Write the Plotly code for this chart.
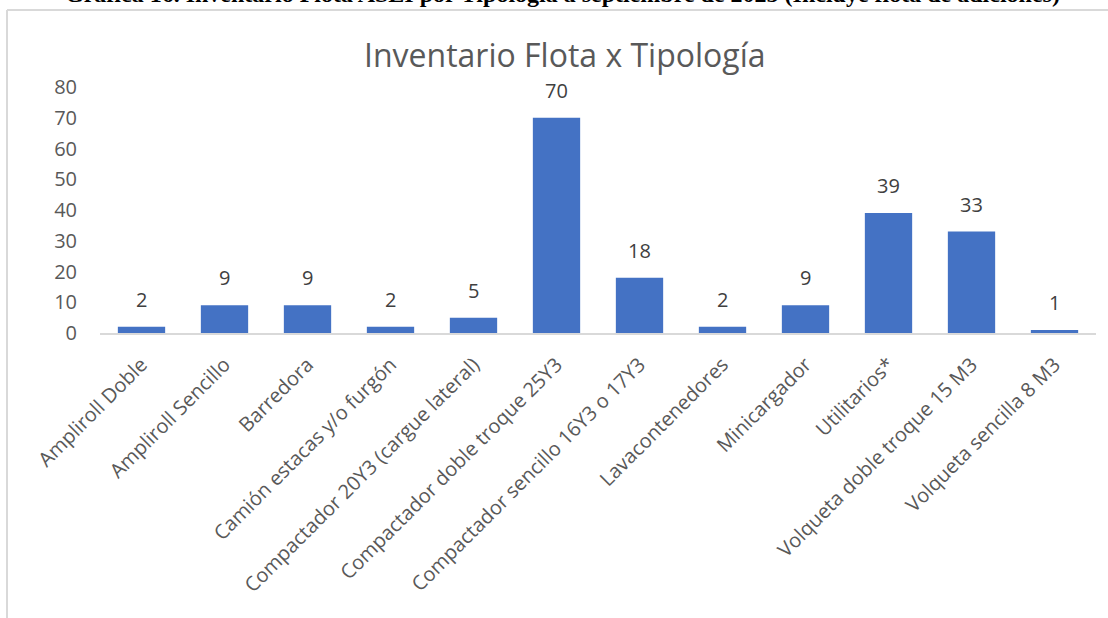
import plotly.graph_objects as go

categories = [
    "Ampliroll Doble", "Ampliroll Sencillo", "Barredora",
    "Camión estacas y/o furgón", "Compactador 20Y3 (cargue lateral)",
    "Compactador doble troque 25Y3", "Compactador sencillo 16Y3 o 17Y3",
    "Lavacontenedores", "Minicargador", "Utilitarios*",
    "Volqueta doble troque 15 M3", "Volqueta sencilla 8 M3",
]
values = [2, 9, 9, 2, 5, 70, 18, 2, 9, 39, 33, 1]
y_ticks = [0, 10, 20, 30, 40, 50, 60, 70, 80]

chart_title = "Inventario Flota x Tipología"
caption = "Gráfica 16. Inventario Flota ASEI por Tipología a septiembre de 2025 (Incluye flota de adiciones)"

W, H = 1108, 618
L, R, T, B = 100, 12, 87, 285
pw, ph = W - L - R, H - T - B

def px_x(p):
    return (p - L) / pw

def px_y(p):
    return (H - B - p) / ph

FONT = "Open Sans"
GREY = "#595959"

fig = go.Figure()
fig.add_trace(go.Bar(
    x=categories, y=values,
    marker=dict(color="#4472c4", line=dict(width=0)),
    hoverinfo="x+y",
))

annotations = []
for c, v in zip(categories, values):
    annotations.append(dict(
        x=c, y=v, xref="x", yref="y", text=str(v), showarrow=False,
        yanchor="bottom", yshift=12,
        font=dict(family=FONT, size=20, color="#404040"),
    ))
annotations.append(dict(
    x=px_x(565), y=px_y(55), xref="paper", yref="paper", text=chart_title,
    showarrow=False, xanchor="center", yanchor="middle",
    font=dict(family=FONT, size=32, color=GREY),
))
annotations.append(dict(
    x=px_x(562), y=px_y(-6), xref="paper", yref="paper", text="<b>" + caption + "</b>",
    showarrow=False, xanchor="center", yanchor="middle",
    font=dict(family="Liberation Serif", size=24, color="#000000"),
))

shapes = [
    dict(type="line", xref="paper", yref="paper",
         x0=px_x(7), x1=px_x(7), y0=px_y(10), y1=px_y(640),
         line=dict(color="#d9d9d9", width=2)),
    dict(type="line", xref="paper", yref="paper",
         x0=px_x(7), x1=px_x(1130), y0=px_y(10), y1=px_y(10),
         line=dict(color="#d9d9d9", width=2)),
]

fig.update_layout(
    width=W, height=H,
    margin=dict(l=L, r=R, t=T, b=B, autoexpand=False),
    paper_bgcolor="white", plot_bgcolor="white",
    bargap=0.43,
    showlegend=False,
    annotations=annotations,
    shapes=shapes,
    xaxis=dict(
        tickangle=-45, tickfont=dict(family=FONT, size=20, color=GREY),
        showline=True, linecolor="#d9d9d9", linewidth=2,
        ticks="", showgrid=False, automargin=False, fixedrange=True,
        ticklabelstandoff=10,
    ),
    yaxis=dict(
        range=[0, 80], tickvals=y_ticks,
        tickfont=dict(family=FONT, size=20, color=GREY),
        showgrid=False, zeroline=False, showline=False, ticks="",
        ticklabelstandoff=22,
        automargin=False, fixedrange=True,
    ),
)

fig.write_html(
    "out.html",
    config={"displayModeBar": False},
    post_script="document.body.style.margin='0';document.body.style.overflow='hidden';",
)
